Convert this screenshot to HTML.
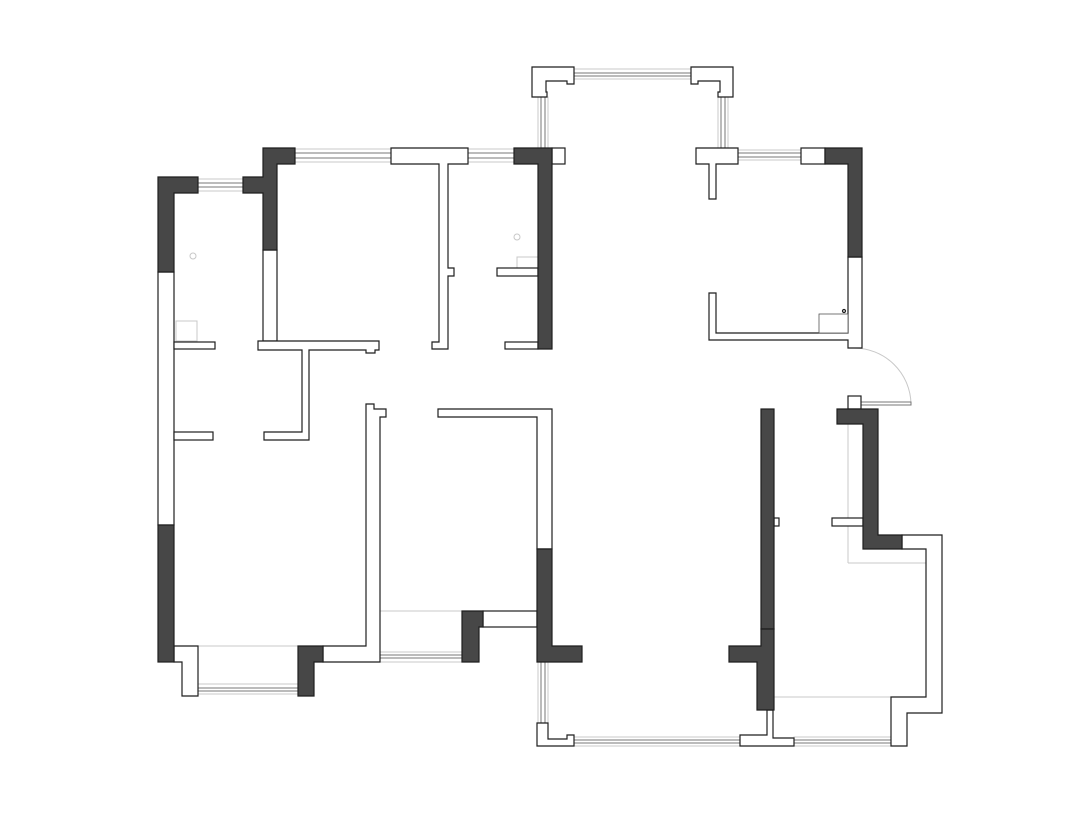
<!DOCTYPE html>
<html><head><meta charset="utf-8"><style>html,body{margin:0;padding:0;background:#fff}svg{display:block}</style></head>
<body>
<svg width="1080" height="827" viewBox="0 0 1080 827" xmlns="http://www.w3.org/2000/svg">
<g fill="none" stroke="#c8c8c8" stroke-width="1">
<!-- windows light outlines -->
<rect x="198" y="179" width="45" height="12"/>
<rect x="295" y="149" width="96" height="13"/>
<rect x="468" y="149" width="46" height="13"/>
<rect x="574" y="69" width="117" height="10"/>
<rect x="538" y="97" width="10" height="51"/>
<rect x="718" y="97" width="10" height="51"/>
<rect x="738" y="150" width="63" height="10"/>
<rect x="198" y="684" width="100" height="10"/>
<rect x="380" y="652" width="82" height="10"/>
<rect x="538" y="662" width="10" height="61"/>
<rect x="574" y="737" width="166" height="9"/>
<rect x="794" y="737" width="97" height="9"/>
<line x1="198" y1="646" x2="298" y2="646"/>
<line x1="380" y1="611" x2="462" y2="611"/>
<line x1="774" y1="697" x2="891" y2="697"/>
<line x1="848" y1="424" x2="848" y2="563"/>
<line x1="848" y1="563" x2="926" y2="563"/>
<path d="M854 348 A57 57 0 0 1 911 404"/>
<circle cx="193" cy="256" r="3"/>
<circle cx="517" cy="237" r="3"/>
<rect x="176" y="321" width="21" height="20"/>
<rect x="517" y="257" width="21" height="11"/>
</g>
<g fill="none" stroke="#777" stroke-width="1">
<line x1="198" y1="183" x2="243" y2="183"/><line x1="198" y1="187" x2="243" y2="187"/>
<line x1="295" y1="153" x2="391" y2="153"/><line x1="295" y1="158" x2="391" y2="158"/>
<line x1="468" y1="153" x2="514" y2="153"/><line x1="468" y1="158" x2="514" y2="158"/>
<line x1="574" y1="73" x2="691" y2="73"/><line x1="574" y1="76" x2="691" y2="76"/>
<line x1="541" y1="97" x2="541" y2="148"/><line x1="545" y1="97" x2="545" y2="148"/>
<line x1="721" y1="97" x2="721" y2="148"/><line x1="725" y1="97" x2="725" y2="148"/>
<line x1="738" y1="153" x2="801" y2="153"/><line x1="738" y1="157" x2="801" y2="157"/>
<line x1="198" y1="688" x2="298" y2="688"/><line x1="198" y1="691" x2="298" y2="691"/>
<line x1="380" y1="655" x2="462" y2="655"/><line x1="380" y1="658" x2="462" y2="658"/>
<line x1="541" y1="662" x2="541" y2="723"/><line x1="545" y1="662" x2="545" y2="723"/>
<line x1="574" y1="740" x2="740" y2="740"/><line x1="574" y1="743" x2="740" y2="743"/>
<line x1="794" y1="740" x2="891" y2="740"/><line x1="794" y1="743" x2="891" y2="743"/>
<rect x="854" y="402" width="57" height="3"/>
</g>
<g fill="#fff" stroke="#1e1e1e" stroke-width="1.2">
<rect x="158" y="272" width="16" height="253"/>
<path d="M174 646 H198 V696 H182 V662 H174 Z"/>
<rect x="263" y="250" width="14" height="91"/>
<path d="M258 341 H379 V350 H375 V353 H366 V350 H309 V440 H264 V432 H302 V350 H258 Z"/>
<path d="M391 148 H468 V164 H448 V268 H454 V276 H448 V349 H432 V342 H439 V164 H391 Z"/>
<rect x="552" y="148" width="13" height="16"/>
<rect x="497" y="268" width="41" height="8"/>
<rect x="505" y="342" width="33" height="7"/>
<rect x="174" y="342" width="41" height="7"/>
<rect x="174" y="432" width="39" height="8"/>
<path d="M366 404 H374 V409 H386 V417 H380 V662 H323 V646 H366 Z"/>
<rect x="483" y="611" width="54" height="16"/>
<path d="M438 409 H552 V549 H537 V417 H438 Z"/>
<path d="M537 723 H548 V739 H567 V735 H574 V746 H537 Z"/>
<path d="M740 735 H767 V710 H773 V738 H794 V746 H740 Z"/>
<path d="M902 535 H942 V713 H907 V746 H891 V697 H926 V549 H902 Z"/>
<rect x="832" y="518" width="31" height="8"/>
<rect x="774" y="518" width="5" height="8"/>
<rect x="848" y="396" width="13" height="13"/>
<path d="M532 67 H574 V84 H567 V81 H546 V92 H547 V97 H532 Z"/>
<path d="M691 67 H733 V97 H718 V92 H720 V81 H698 V84 H691 Z"/>
<path d="M696 148 H738 V164 H716 V199 H709 V164 H696 Z"/>
<rect x="801" y="148" width="24" height="16"/>
<path d="M709 293 H716 V333 H848 V257 H862 V348 H848 V340 H709 Z"/>
<rect x="819" y="314" width="29" height="19" stroke="#555" stroke-width="0.8"/>
<circle cx="844" cy="311" r="1.5" fill="none"/>
</g>
<g fill="#474747" stroke="#1e1e1e" stroke-width="1.2">
<path d="M158 177 H198 V193 H174 V272 H158 Z"/>
<rect x="158" y="525" width="16" height="137"/>
<path d="M263 148 H295 V164 H277 V250 H263 V193 H243 V177 H263 Z"/>
<path d="M514 148 H552 V349 H538 V164 H514 Z"/>
<path d="M298 646 H323 V662 H314 V696 H298 Z"/>
<path d="M462 611 H483 V627 H479 V662 H462 Z"/>
<path d="M537 549 H552 V646 H582 V662 H537 Z"/>
<rect x="761" y="409" width="13" height="220"/>
<path d="M761 629 H774 V710 H757 V662 H729 V646 H761 Z"/>
<path d="M837 409 H878 V535 H902 V549 H863 V424 H837 Z"/>
<path d="M825 148 H862 V257 H848 V164 H825 Z"/>
</g>
</svg>
</body></html>
